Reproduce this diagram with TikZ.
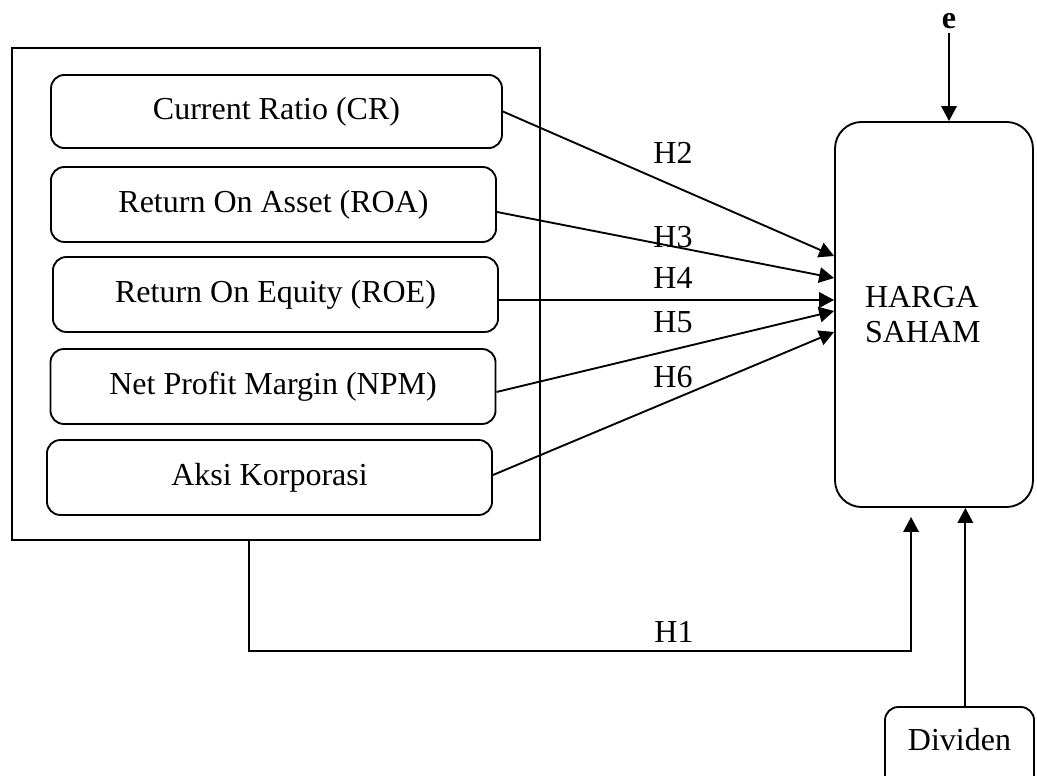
\documentclass[tikz,border=0pt]{standalone}
\usepackage{fontspec}
\setmainfont{Liberation Serif}
\usetikzlibrary{arrows.meta,calc}

\tikzset{
  var/.style={draw, rounded corners=5pt, line width=0.7pt,
    minimum width=166.9pt, minimum height=28.1pt},
  arr/.style={-{Triangle[length=5.6pt,width=5.8pt]}, line width=0.7pt},
}

\begin{document}
\begin{tikzpicture}[x=0.375pt, y=-0.375pt, font=\fontsize{12}{13}\selectfont]
  \useasboundingbox (0,0) rectangle (1037,776);
  \clip (0,0) rectangle (1037,776);
  % independent variables
  \node[draw, line width=0.8pt, minimum width=198.2pt, minimum height=184.5pt] (frame) at (276,294) {};
  \node[var, minimum width=169.1pt, minimum height=27.4pt] (cr) at (276.5,111.5) {Current Ratio (CR)};
  \node[var] (roa) at (273.5,204.5) {Return On Asset (ROA)};
  \node[var] (roe) at (275.5,294.5) {Return On Equity (ROE)};
  \node[var] (npm) at (273,386.5) {Net Profit Margin (NPM)};
  \node[var] (aksi) at (269.5,477.5) {Aksi Korporasi};
  % dependent variable
  \node[draw, rounded corners=10pt, line width=0.7pt, minimum height=144.4pt,
    text width=51.75pt, inner xsep=11.25pt, align=left] (harga) at (934,314.5) {HARGA\\SAHAM};
  \node[font=\fontsize{12}{13}\selectfont\bfseries, inner sep=1.5pt] (e) at (949,21) {e};
  \node[draw, rounded corners=5pt, line width=0.7pt, minimum width=55.9pt, minimum height=33pt,
    text height=8.2pt, text depth=8.4pt] (div) at (959.5,751) {Dividen};

  \draw[arr] (e) -- (e |- harga.north);
  \draw[arr] (cr.east) -- ($(harga.west)+(0,-58.5)$);
  \draw[arr] ($(roa.east)+(0,7.5)$) -- ($(harga.west)+(0,-36.5)$);
  \draw[arr] ($(roe.east)+(0,5.5)$) -- ($(harga.west)+(0,-14.5)$);
  \draw[arr] ($(npm.east)+(0,5.5)$) -- ($(harga.west)+(0,-3.5)$);
  \draw[arr] ($(aksi.east)+(0,-2.5)$) -- ($(harga.west)+(0,17.5)$);
  \draw[arr] ([xshift=-10.1pt]frame.south) -- ++(0,110) -| ([xshift=-8.6pt,yshift=-3.4pt]harga.south);
  \draw[arr] ([xshift=2.2pt]div.north) -- ([xshift=2.2pt]div.north |- harga.south);

  \node (h1) at (674,632) {H1};
  \node (h2) at (673,153) {H2};
  \node (h3) at (673,237) {H3};
  \node (h4) at (673,278) {H4};
  \node (h5) at (673,322) {H5};
  \node (h6) at (673,377) {H6};
\end{tikzpicture}
\end{document}
